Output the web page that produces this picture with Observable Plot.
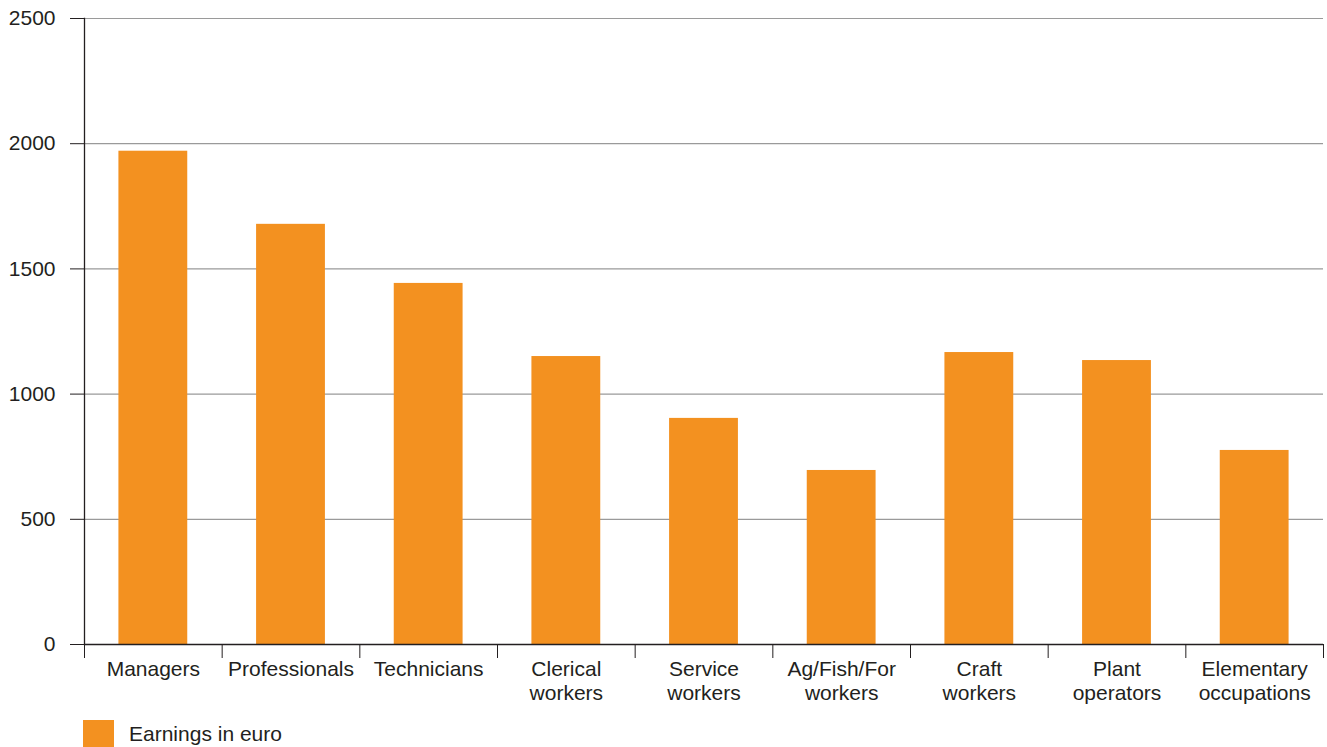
<!DOCTYPE html>
<html>
<head>
<meta charset="utf-8">
<script src="https://cdn.jsdelivr.net/npm/d3@7"></script>
<script src="https://cdn.jsdelivr.net/npm/@observablehq/plot@0.6"></script>
<style>
  body { margin: 0; background: #fff; font-family: "Liberation Sans", Arial, sans-serif; }
  #chart { position: relative; width: 1327px; }
  .legend { display: flex; align-items: center; margin-left: 83px; margin-top: 10px; font-size: 21px; color: #231f20; }
  .legend .sw { width: 31px; height: 27px; background: #F39120; margin-right: 15px; }
</style>
</head>
<body>
<div id="chart"></div>
<script>
const categories = ["Managers", "Professionals", "Technicians", "Clerical\nworkers", "Service\nworkers", "Ag/Fish/For\nworkers", "Craft\nworkers", "Plant\noperators", "Elementary\noccupations"];
const earnings = [1970, 1678, 1442, 1150, 903, 695, 1166, 1134, 775];
const yTicks = [0, 500, 1000, 1500, 2000, 2500];
const seriesName = "Earnings in euro";

const data = categories.map((c, i) => ({category: c, value: earnings[i]}));

const W = 1327, mL = 84, mR = 4;
const halfBand = (W - mL - mR) / categories.length / 2;

const plot = Plot.plot({
  width: W,
  height: 710,
  marginLeft: mL,
  marginRight: mR,
  marginTop: 18,
  marginBottom: 66,
  style: {fontFamily: "'Liberation Sans', Arial, sans-serif", fontSize: "21px", color: "#231f20", background: "#fff"},
  x: {domain: categories, paddingInner: 0.5, paddingOuter: 0.25, round: false, label: null},
  y: {domain: [0, 2500], label: null},
  marks: [
    Plot.gridY(yTicks.filter(d => d > 0), {stroke: "#9a9a9a", strokeOpacity: 1, strokeWidth: 1.2}),
    Plot.barY(data, {x: "category", y: "value", fill: "#F39120"}),
    Plot.axisY(yTicks, {tickSize: 14, tickPadding: 15, stroke: "#231f20", fill: "#231f20", tickFormat: d => String(d), label: null}),
    Plot.ruleY([0], {stroke: "#231f20", strokeWidth: 1.3}),
    Plot.frame({anchor: "left", stroke: "#231f20", strokeWidth: 1.3}),
    Plot.axisX(categories, {tickSize: 14, tickFormat: null, dx: -halfBand, stroke: "#231f20", label: null}),
    Plot.axisX([categories[categories.length - 1]], {tickSize: 14, tickFormat: null, dx: halfBand, stroke: "#231f20", label: null}),
    Plot.axisX(categories, {tickSize: 0, tickPadding: 14, fill: "#231f20", lineHeight: 1.15, label: null})
  ]
});
document.getElementById("chart").appendChild(plot);

const legend = document.createElement("div");
legend.className = "legend";
legend.innerHTML = `<div class="sw"></div><span>${seriesName}</span>`;
document.getElementById("chart").appendChild(legend);
</script>
</body>
</html>
